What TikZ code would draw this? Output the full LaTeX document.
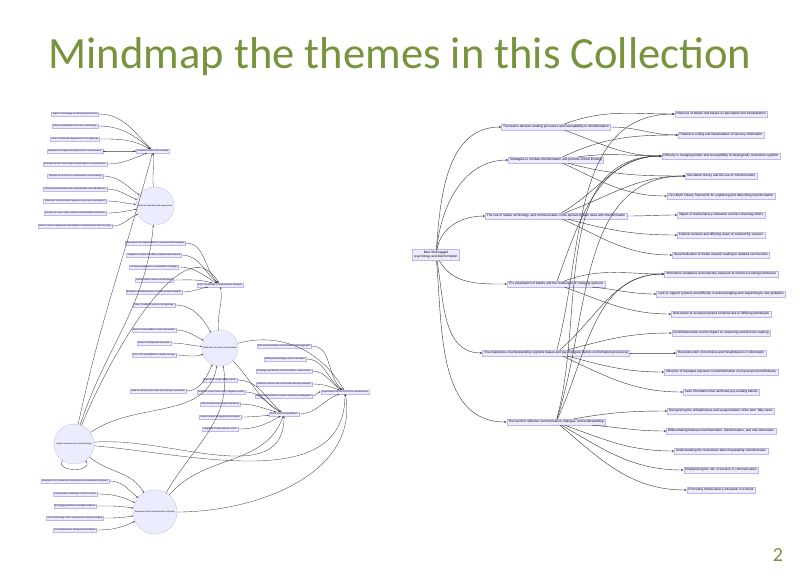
\documentclass[tikz,border=0pt]{standalone}
\usepackage{fontspec}
\setsansfont{Liberation Sans}
\newfontfamily\titlefont{Carlito}
\usetikzlibrary{arrows.meta}
\definecolor{titlegreen}{RGB}{119,147,60}
\definecolor{nodefill}{HTML}{ECECFF}
\definecolor{nodeline}{HTML}{C3B4EE}
\definecolor{linkgray}{HTML}{3A3A3A}
\begin{document}
\begin{tikzpicture}[x=1pt,y=1pt,
  box/.style={draw=nodeline,fill=nodefill,line width=0.3pt},
  topic/.style={box,inner xsep=1.6pt,inner ysep=1.5pt,text height=2.3pt,text depth=0.7pt,font=\sffamily\fontsize{3.2}{3.8}\selectfont},
  sub/.style={box,line width=0.25pt,inner xsep=1.2pt,inner ysep=1pt,text height=1.5pt,text depth=0.5pt,font=\sffamily\fontsize{2.1}{2.5}\selectfont},
  hub/.style={box,circle,inner sep=0pt,font=\sffamily\fontsize{2.1}{2.5}\selectfont},
  link/.style={draw=linkgray,line width=0.42pt,-{Stealth[length=2.4pt,width=2pt]}},
  sublink/.style={draw=linkgray,line width=0.33pt,-{Stealth[length=1.8pt,width=1.5pt]}}]
\fill[white] (0,0) rectangle (800,-576);
\useasboundingbox (0,0) rectangle (800,-576);
\node[anchor=base,text=titlegreen,font=\titlefont\fontsize{44.6}{50}\selectfont] (title) at (400,-68) {Mindmap the themes in this Collection};
\node[anchor=base,text=titlegreen,font=\titlefont\fontsize{20}{24}\selectfont] (page) at (778,-561) {2};

\node[box,align=center,inner sep=2pt,font=\sffamily\fontsize{3.2}{4.2}\selectfont] (root) at (436,-255) {Best Stuff tagged\\psychology and disinformation};
\node[topic] (brain) at (556,-127) {The brain's decision-making processes and susceptibility to misinformation};
\node[topic] (combat) at (556,-160) {Strategies to combat misinformation and promote critical thinking};
\node[topic] (spread) at (556,-216) {The role of media, technology, and communication in the spread of false news and misinformation};
\node[topic] (polar) at (556,-284) {The polarization of beliefs and the challenges of changing opinions};
\node[topic] (bias) at (556,-353) {The importance of understanding cognitive biases and psychological factors in information processing};
\node[topic] (dialog) at (556,-422) {The need for effective communication, dialogue, and understanding};

\node[topic] (t1) at (721,-114) {Influence of beliefs and biases on perception and interpretation};
\node[topic] (t2) at (721,-135) {Predictive coding and interpretation of sensory information};
\node[topic] (t3) at (721,-156) {Difficulty in changing beliefs and susceptibility to ideologically motivated cognition};
\node[topic] (t4) at (721,-176) {Inoculation theory and the use of misinformation};
\node[topic] (t5) at (721,-196) {Fact-Myth-Fallacy framework for explaining and debunking misinformation};
\node[topic] (t6) at (721,-215) {Impact of media literacy education and fact-checking efforts};
\node[topic] (t7) at (721,-235) {Cultural contexts and differing views on trustworthy sources};
\node[topic] (t8) at (721,-255) {Decentralization of media creation leading to isolated communities};
\node[topic] (t9) at (721,-274) {Information avoidance and selective exposure to reinforce existing worldviews};
\node[topic] (t10) at (721,-294) {Lack of support systems and difficulty in acknowledging and responding to new problems};
\node[topic] (t11) at (721,-314) {Reluctance to accept proposed solutions due to differing worldviews};
\node[topic] (t12) at (721,-333) {Confirmation bias and its impact on reasoning and decision-making};
\node[topic] (t13) at (721,-353) {Reconstruction of memories and misattribution of information};
\node[topic] (t14) at (721,-372) {Influence of repeated exposure to misinformation on its perceived truthfulness};
\node[topic] (t15) at (721,-392) {Seek information that reinforces pre-existing beliefs};
\node[topic] (t16) at (721,-411) {Recognizing the unhelpfulness and weaponization of the term 'fake news'};
\node[topic] (t17) at (721,-431) {Differentiating between misinformation, disinformation, and mal-information};
\node[topic] (t18) at (721,-451) {Understanding the motivations behind spreading misinformation};
\node[topic] (t19) at (721,-470) {Emphasizing the role of emotion in communication};
\node[topic] (t20) at (721,-490) {Promoting media literacy education in schools};

\draw[link] (root) to[out=86,in=180] (brain);
\draw[link] (root) to[out=84,in=180] (combat);
\draw[link] (root) to[out=80,in=180] (spread);
\draw[link] (root) to[out=-60,in=180] (polar);
\draw[link] (root) to[out=-80,in=180] (bias);
\draw[link] (root) to[out=-85,in=180] (dialog);
\draw[link] (brain) to[out=20,in=180] (t1);
\draw[link] (brain) to[out=0,in=180] (t2);
\draw[link] (brain) to[out=-20,in=180] (t3);
\draw[link] (combat) to[out=25,in=180] (t2);
\draw[link] (combat) to[out=8,in=180] (t3);
\draw[link] (combat) to[out=-15,in=180] (t4);
\draw[link] (combat) to[out=-25,in=180] (t5);
\draw[link] (spread) to[out=30,in=180] (t3);
\draw[link] (spread) to[out=20,in=180] (t4);
\draw[link] (spread) to[out=0,in=180] (t6);
\draw[link] (spread) to[out=-15,in=180] (t7);
\draw[link] (spread) to[out=-25,in=180] (t8);
\draw[link] (polar) to[out=70,in=180] (t3);
\draw[link] (polar) to[out=20,in=180] (t9);
\draw[link] (polar) to[out=-5,in=180] (t10);
\draw[link] (polar) to[out=-20,in=180] (t11);
\draw[link] (bias) to[out=75,in=180] (t1);
\draw[link] (bias) to[out=40,in=180] (t9);
\draw[link] (bias) to[out=15,in=180] (t12);
\draw[link] (bias) to[out=0,in=180] (t13);
\draw[link] (bias) to[out=-15,in=180] (t14);
\draw[link] (bias) to[out=-25,in=180] (t15);
\draw[link] (dialog) to[out=75,in=180] (t3);
\draw[link] (dialog) to[out=72,in=180] (t4);
\draw[link] (dialog) to[out=65,in=180] (t9);
\draw[link] (dialog) to[out=10,in=180] (t16);
\draw[link] (dialog) to[out=-5,in=180] (t17);
\draw[link] (dialog) to[out=-20,in=180] (t18);
\draw[link] (dialog) to[out=-30,in=180] (t19);
\draw[link] (dialog) to[out=-40,in=180] (t20);

\node[sub] (concerns) at (153,-151) {Societal concerns and innovation};
\node[hub,minimum size=38pt] (personal) at (155,-206) {Personal reflections and experiences};
\node[sub] (strategy) at (220,-285) {Role of technology in communication strategies};
\node[hub,minimum size=36pt] (media) at (220,-348) {Reflections on media and journalism};
\node[sub] (orgcomm) at (345,-392) {Organizational culture and trust in communication};
\node[sub] (platforms) at (284,-414) {Use of social media platforms};
\node[hub,minimum size=40pt] (digital) at (74,-444) {Digital communication and technology};
\node[hub,minimum size=44pt] (eu) at (155,-512) {European Union communication and policy};

\node[sub] (soc1) at (75,-114) {Impact of technology on democracy and society};
\node[sub] (soc2) at (75,-126) {Ethical considerations in the use of technology};
\node[sub] (soc3) at (75,-139) {Future of work and organizations in the digital age};
\node[sub] (soc4) at (75,-151) {Application of augmented reality and AI in communication};
\node[sub] (soc5) at (75,-164) {Emerging trends in technology and their impact on communication};
\node[sub] (pers1) at (75,-176) {Thoughts on the future of communication and technology};
\node[sub] (pers2) at (75,-189) {Personal experimentation with communication tools and platforms};
\node[sub] (pers3) at (75,-201) {Reflections on professional experiences and career development};
\node[sub] (pers4) at (75,-213) {Opinions on various topics related to communication and society};
\node[sub] (pers5) at (75,-226) {Authors' personal experiences and insights in communication and technology};
\node[sub] (strat1) at (155,-243) {Development and implementation of communication strategies};
\node[sub] (strat2) at (154,-255) {Integration of online and offline communication channels};
\node[sub] (strat3) at (154,-267) {Change management in communication strategies};
\node[sub] (strat4) at (154,-280) {Communication tactics and techniques};
\node[sub] (strat5) at (154,-292) {Evaluation and measurement of communication strategies};
\node[sub] (med1) at (154,-305) {State of traditional media in the digital age};
\node[sub] (med2) at (154,-330) {Impact of social media on news consumption};
\node[sub] (med3) at (154,-343) {Decline of independent journalism};
\node[sub] (med4) at (154,-355) {Role of PR and publishers in media coverage};
\node[sub] (med5) at (158,-391) {Need for authenticity and data-first reporting in journalism};
\node[sub] (org1) at (284,-346) {Role of social media in communication and engagement};
\node[sub] (org2) at (285,-359) {Building and managing online communities};
\node[sub] (org3) at (284,-371) {Challenges and benefits of social media in communication};
\node[sub] (org4) at (284,-384) {Influencer outreach and social media marketing strategies};
\node[sub] (org5) at (284,-396) {Use of social media for customer relationship management};
\node[sub] (plat1) at (220,-380) {Importance of high-quality content};
\node[sub] (plat2) at (221,-392) {Longform content versus short, skippable content};
\node[sub] (plat3) at (220,-404) {Role of authenticity in content marketing};
\node[sub] (plat4) at (220,-417) {Content curation strategies and techniques};
\node[sub] (plat5) at (220,-429) {Integration of video and live content};
\node[sub] (eu1) at (75,-481) {Integration of EU policies and internal external communication systems};
\node[sub] (eu2) at (75,-494) {Communication challenges in the EU context};
\node[sub] (eu3) at (75,-506) {EU blogging platforms and digital initiatives};
\node[sub] (eu4) at (75,-518) {Use of technology in EU communication and policy making};
\node[sub] (eu5) at (75,-530) {EU communication strategies and initiatives};

\draw[sublink] (soc1) to[out=0,in=135] (concerns);
\draw[sublink] (soc2) to[out=0,in=140] (concerns);
\draw[sublink] (soc3) to[out=0,in=150] (concerns);
\draw[sublink] (soc4) to[out=0,in=180] (concerns);
\draw[sublink] (soc5) to[out=0,in=200] (concerns);
\draw[sublink] (pers1) to[out=0,in=145] (personal);
\draw[sublink] (pers2) to[out=0,in=160] (personal);
\draw[sublink] (pers3) to[out=0,in=175] (personal);
\draw[sublink] (pers4) to[out=0,in=190] (personal);
\draw[sublink] (pers5) to[out=0,in=205] (personal);
\draw[sublink] (strat1) to[out=0,in=135] (strategy);
\draw[sublink] (strat2) to[out=0,in=140] (strategy);
\draw[sublink] (strat3) to[out=0,in=150] (strategy);
\draw[sublink] (strat4) to[out=0,in=165] (strategy);
\draw[sublink] (strat5) to[out=0,in=190] (strategy);
\draw[sublink] (med1) to[out=0,in=120] (media);
\draw[sublink] (med2) to[out=0,in=155] (media);
\draw[sublink] (med3) to[out=0,in=175] (media);
\draw[sublink] (med4) to[out=0,in=200] (media);
\draw[sublink] (med5) to[out=0,in=245] (media);
\draw[sublink] (org1) to[out=0,in=140] (orgcomm);
\draw[sublink] (org2) to[out=0,in=145] (orgcomm);
\draw[sublink] (org3) to[out=0,in=150] (orgcomm);
\draw[sublink] (org4) to[out=0,in=160] (orgcomm);
\draw[sublink] (org5) to[out=0,in=180] (orgcomm);
\draw[sublink] (plat1) to[out=0,in=140] (platforms);
\draw[sublink] (plat2) to[out=0,in=150] (platforms);
\draw[sublink] (plat3) to[out=0,in=165] (platforms);
\draw[sublink] (plat4) to[out=0,in=185] (platforms);
\draw[sublink] (plat5) to[out=0,in=210] (platforms);
\draw[sublink] (eu1) to[out=0,in=140] (eu);
\draw[sublink] (eu2) to[out=0,in=155] (eu);
\draw[sublink] (eu3) to[out=0,in=170] (eu);
\draw[sublink] (eu4) to[out=0,in=190] (eu);
\draw[sublink] (eu5) to[out=0,in=205] (eu);

\draw[sublink] (personal) to[out=95,in=-85] (concerns);
\draw[sublink] (digital) to[out=78,in=-105] (concerns);
\draw[sublink] (digital) to[out=72,in=-95] (personal);
\draw[sublink] (digital) to[out=68,in=120,looseness=0.9] (strategy);
\draw[sublink] (media) to[out=95,in=-80] (strategy);
\draw[sublink] (digital) to[out=35,in=-100] (media);
\draw[sublink] (digital) to[out=5,in=-90] (platforms);
\draw[sublink] (digital) to[out=-5,in=-90] (orgcomm);
\draw[sublink] (digital) to[out=-40,in=120] (eu);
\draw[sublink] (digital) to[out=-125,in=-55,looseness=1.6] (digital);
\draw[sublink] (eu) to[out=60,in=-80] (media);
\draw[sublink] (eu) to[out=50,in=-110] (platforms);
\draw[sublink] (eu) to[out=0,in=-80] (orgcomm);
\draw[sublink] (media) to[out=15,in=120] (orgcomm);
\draw[sublink] (media) to[out=-45,in=150] (platforms);
\draw[sublink] (platforms) to[out=0,in=-160] (orgcomm);
\end{tikzpicture}
\end{document}
